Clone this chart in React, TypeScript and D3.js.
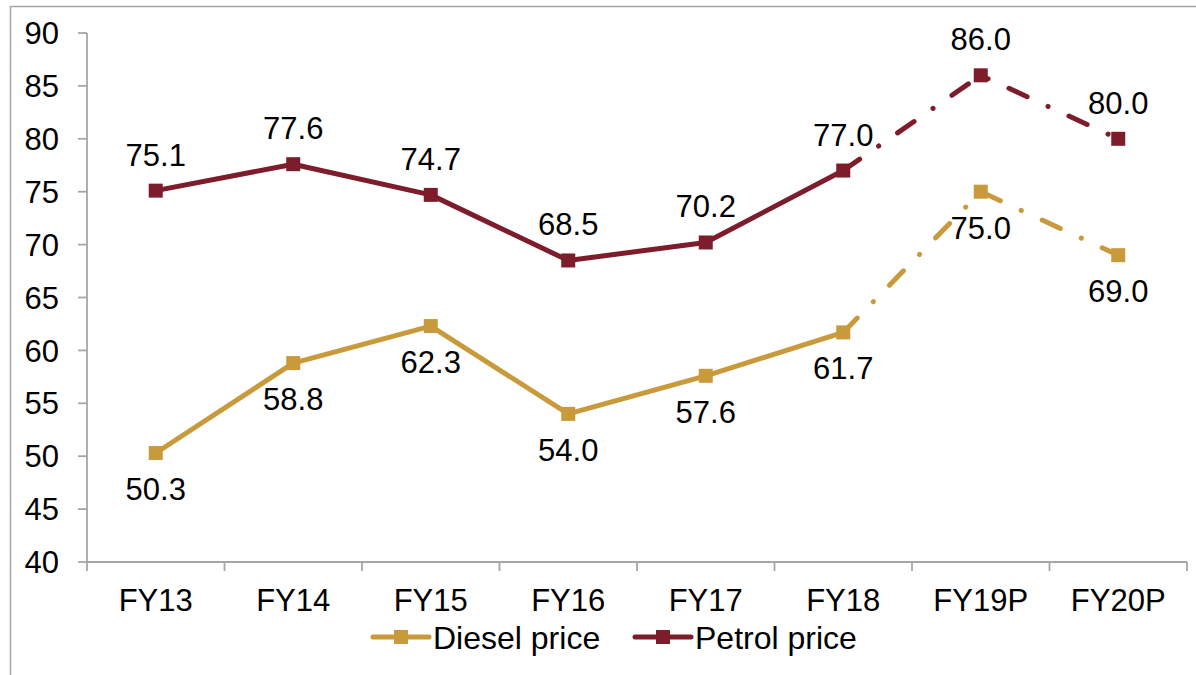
import * as d3 from "d3";
import * as React from "react";

const categories = ["FY13", "FY14", "FY15", "FY16", "FY17", "FY18", "FY19P", "FY20P"];
const dieselValues = [50.3, 58.8, 62.3, 54.0, 57.6, 61.7, 75.0, 69.0];
const petrolValues = [75.1, 77.6, 74.7, 68.5, 70.2, 77.0, 86.0, 80.0];
const yTicks = [40, 45, 50, 55, 60, 65, 70, 75, 80, 85, 90];
// first projected year index: line turns dash-dot from FY18 on
const projStart = 5;

const DIESEL = "#c99a3b";
const PETROL = "#7d1d2b";
const AXIS = "#a6a6a6";
const FONT = "'Liberation Sans', Arial, sans-serif";
const FS = 31;

export default function App() {
  const width = 1196;
  const height = 675;
  const margin = { top: 33, right: 9, bottom: 113, left: 87 };

  const x = d3
    .scaleBand()
    .domain(categories)
    .range([margin.left, width - margin.right]);
  const y = d3
    .scaleLinear()
    .domain([40, 90])
    .range([height - margin.bottom, margin.top]);

  const cx = (i) => x(categories[i]) + x.bandwidth() / 2;
  const line = d3
    .line()
    .x((d) => cx(d[0]))
    .y((d) => y(d[1]));

  const series = [
    { name: "Diesel price", values: dieselValues, color: DIESEL, labelDy: 47 },
    { name: "Petrol price", values: petrolValues, color: PETROL, labelDy: -25 },
  ];

  const y0 = y(40);
  const tickXs = categories.map((c) => x(c)).concat([x.range()[1]]);

  return (
    <svg
      width={width}
      height={height}
      style={{ position: "absolute", left: 0, top: 0, display: "block" }}
      fontFamily={FONT}
    >
      <rect width={width} height={height} fill="#fff" />
      <rect x={10.5} y={6.5} width={1300} height={800} fill="none" stroke={AXIS} strokeWidth={1.5} />

      {/* y axis */}
      <line x1={margin.left} x2={margin.left} y1={y(90)} y2={y0} stroke={AXIS} strokeWidth={1.8} />
      {yTicks.map((t) => (
        <g key={t}>
          <line x1={margin.left - 9} x2={margin.left} y1={y(t)} y2={y(t)} stroke={AXIS} strokeWidth={1.8} />
          <text x={59} y={y(t)} dy="0.36em" textAnchor="end" fontSize={FS} fill="#000">
            {t}
          </text>
        </g>
      ))}

      {/* x axis */}
      <line x1={margin.left} x2={x.range()[1]} y1={y0} y2={y0} stroke={AXIS} strokeWidth={1.8} />
      {tickXs.map((tx, i) => (
        <line key={i} x1={tx} x2={tx} y1={y0} y2={y0 + 9} stroke={AXIS} strokeWidth={1.8} />
      ))}
      {categories.map((c, i) => (
        <text key={c} x={cx(i)} y={611} textAnchor="middle" fontSize={FS} fill="#000">
          {c}
        </text>
      ))}

      {series.map((s) => {
        const pts = s.values.map((v, i) => [i, v]);
        return (
          <g key={s.name}>
            <path
              d={line(pts.slice(0, projStart + 1))}
              fill="none"
              stroke={s.color}
              strokeWidth={5}
              strokeLinejoin="round"
            />
            <path
              d={line(pts.slice(projStart))}
              fill="none"
              stroke={s.color}
              strokeWidth={5}
              strokeLinecap="round"
              strokeLinejoin="round"
              strokeDasharray="20,23,0.1,23"
            />
            {pts.map(([i, v]) => (
              <rect key={i} x={cx(i) - 7} y={y(v) - 7} width={14} height={14} fill={s.color} />
            ))}
            {pts.map(([i, v]) => (
              <text
                key={"l" + i}
                x={cx(i)}
                y={y(v) + s.labelDy}
                textAnchor="middle"
                fontSize={FS}
                fill="#000"
              >
                {v.toFixed(1)}
              </text>
            ))}
          </g>
        );
      })}

      {/* legend */}
      {series.map((s, k) => {
        const lx = k === 0 ? 373 : 635;
        const ly = 637;
        return (
          <g key={"lg" + s.name}>
            <line x1={lx} x2={lx + 56} y1={ly} y2={ly} stroke={s.color} strokeWidth={5} strokeLinecap="round" />
            <rect x={lx + 21} y={ly - 7} width={14} height={14} fill={s.color} />
            <text x={lx + 60} y={ly} dy="0.36em" fontSize={32} fill="#000">
              {s.name}
            </text>
          </g>
        );
      })}
    </svg>
  );
}
